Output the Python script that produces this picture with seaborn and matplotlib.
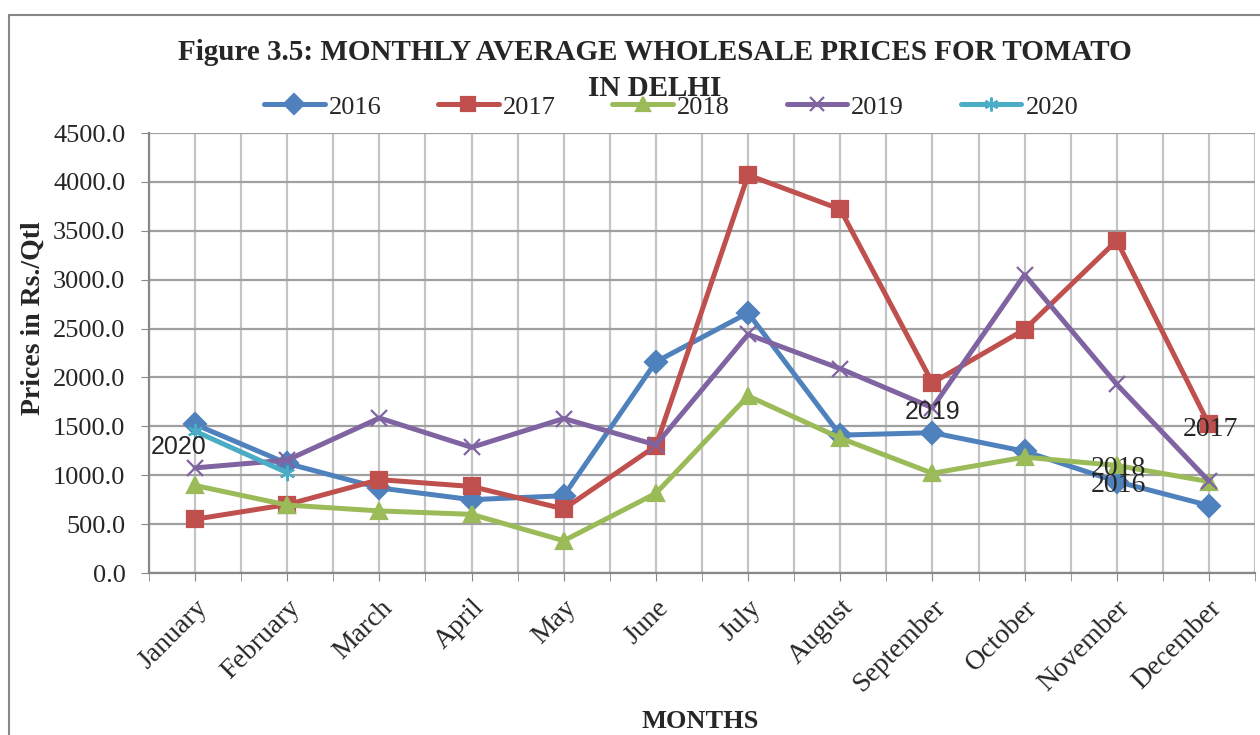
import pandas as pd
import matplotlib
matplotlib.use('Agg')
import matplotlib.pyplot as plt
import seaborn as sns
from matplotlib.lines import Line2D
from matplotlib.ticker import MultipleLocator, FormatStrFormatter

#chart data
months = ['January', 'February', 'March', 'April', 'May', 'June', 'July',
          'August', 'September', 'October', 'November', 'December']
years = ['2016', '2017', '2018', '2019', '2020']
p2016 = [1520, 1120, 870, 750, 790, 2160, 2660, 1410, 1435, 1245, 935, 690]
p2017 = [550, 700, 955, 885, 655, 1300, 4070, 3720, 1945, 2490, 3400, 1520]
p2018 = [895, 695, 635, 600, 330, 815, 1810, 1380, 1020, 1185, 1100, 935]
p2019 = [1075, 1155, 1585, 1285, 1580, 1310, 2440, 2090, 1690, 3050, 1930, 940]
p2020 = [1450, 1025]

colors = ['#4F81BD', '#C0504D', '#9BBB59', '#8064A2', '#4BACC6']
markers = ['D', 's', '^', 'x', (6, 2, 0)]

#long format table for seaborn
rows = []
for yr, vals in zip(years, [p2016, p2017, p2018, p2019, p2020]):
    for i, v in enumerate(vals):
        rows.append({'month': i, 'price': v, 'year': yr})
df = pd.DataFrame(rows)

sns.set_style('white')
plt.rcParams['font.family'] = ['Liberation Serif', 'DejaVu Serif']

fig = plt.figure(figsize=(12.6, 7.35), dpi=100)
ax = fig.add_axes([149/1260, 1-573/735, (1255-149)/1260, (573-133)/735])

#one call per year since filled and line markers can't mix in one call
for yr, c, m in zip(years, colors, markers):
    sns.lineplot(data=df[df['year'] == yr], x='month', y='price', color=c,
                 marker=m, sort=False, legend=False, ax=ax,
                 linewidth=3.6, markersize=11, markeredgewidth=1.6,
                 markeredgecolor=c)

ax.set_xlim(-0.5, 11.5)
ax.set_ylim(0, 4500)
ax.set_xticks(range(12))
ax.set_xticklabels(months, rotation=45, ha='right', rotation_mode='anchor')
ax.xaxis.set_minor_locator(MultipleLocator(0.5))
ax.yaxis.set_major_locator(MultipleLocator(500))
ax.yaxis.set_major_formatter(FormatStrFormatter('%.1f'))
ax.tick_params(axis='both', which='major', labelsize=19, length=6, color='#888888',
               direction='out', left=True, bottom=True)
ax.tick_params(axis='y', pad=11)
ax.tick_params(axis='x', which='major', labelsize=20, pad=10)
ax.tick_params(axis='x', which='minor', length=6, color='#888888', bottom=True)
ax.set_xlabel('')
ax.set_ylabel('')
ax.grid(axis='y', which='major', color='#a0a0a0', linewidth=1.6)
ax.grid(axis='x', which='both', color='#c4c4c4', linewidth=1.6)
ax.set_axisbelow(True)
for s in ['top', 'right']:
    ax.spines[s].set_visible(False)
for s in ['left', 'bottom']:
    ax.spines[s].set_color('#888888')
    ax.spines[s].set_linewidth(1.6)

#data labels
ax.annotate('2020', (0, p2020[0]), xytext=(-12, -11), textcoords='offset points',
            ha='center', va='center', fontsize=18, family='Liberation Sans')
ax.annotate('2019', (8, p2019[8]), xytext=(0, -3), textcoords='offset points',
            ha='center', va='center', fontsize=18, family='Liberation Sans')
ax.annotate('2018', (10, p2018[10]), xytext=(1, -2), textcoords='offset points',
            ha='center', va='center', fontsize=20)
ax.annotate('2016', (10, p2016[10]), xytext=(1, -3), textcoords='offset points',
            ha='center', va='center', fontsize=20)
ax.annotate('2017', (11, p2017[11]), xytext=(1, -4), textcoords='offset points',
            ha='center', va='center', fontsize=20)

#legend
handles = [Line2D([], [], color=c, marker=m, linewidth=3.6, markersize=10,
                  markeredgewidth=1.6) for c, m in zip(colors, markers)]
fig.legend(handles, years, loc='center', bbox_to_anchor=(671/1260, 1-107/735),
           ncol=5, frameon=False, fontsize=19, handlelength=2.3,
           columnspacing=2.15, handletextpad=0.15)

#title, two lines drawn separately
fig.text(655/1260, 1-52/735, 'Figure 3.5: MONTHLY AVERAGE WHOLESALE PRICES FOR TOMATO',
         ha='center', va='center', fontsize=21, fontweight='bold')
fig.text(655/1260, 1-88/735, 'IN DELHI',
         ha='center', va='center', fontsize=21, fontweight='bold')
fig.text(33/1260, 1-318/735, 'Prices in Rs./Qtl', rotation=90, ha='center',
         va='center', fontsize=20, fontweight='bold')
fig.text(700/1260, 1-722/735, 'MONTHS', ha='center', va='center',
         fontsize=19, fontweight='bold')

#outer chart frame
fig.add_artist(Line2D([9/1260, 9/1260], [0, 1-15/735], color='#888888', lw=1.5))
fig.add_artist(Line2D([9/1260, 1], [1-15/735, 1-15/735], color='#888888', lw=1.5))

fig.savefig('out.png', dpi=100)
